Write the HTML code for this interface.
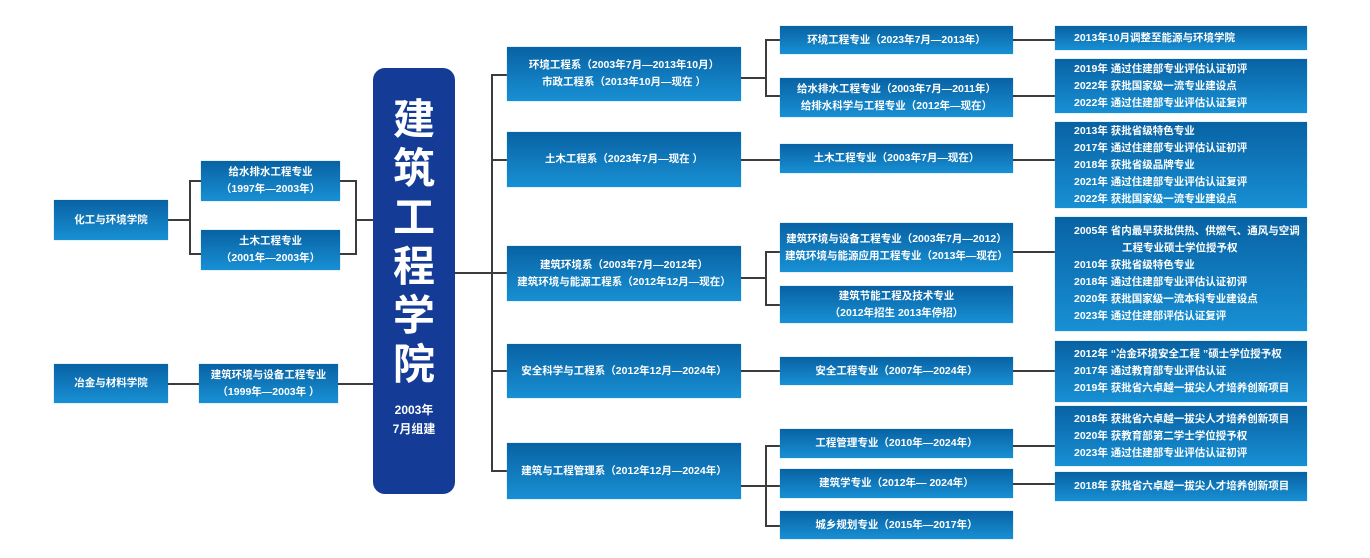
<!DOCTYPE html>
<html><head><meta charset="utf-8"><style>
body{margin:0;width:1370px;height:558px;background:#fff;position:relative;overflow:hidden;font-family:"Liberation Sans","Noto Sans CJK SC",sans-serif;}
.b{position:absolute;background:linear-gradient(#0862a3,#1890d4);color:#fff;font-size:10.5px;font-weight:bold;display:flex;flex-direction:column;justify-content:center;align-items:center;text-align:center;line-height:17px;box-shadow:0 0 1px #7ab8e0;}
.l{align-items:flex-start;text-align:left;padding-left:19px;box-sizing:border-box;}
.h{position:absolute;height:2px;background:#3c3c3c;}
.v{position:absolute;width:2px;background:#3c3c3c;}
#c{position:absolute;left:373px;top:68px;width:82px;height:426px;background:#143c96;border-radius:12px;color:#fff;text-align:center;font-weight:bold;}
</style></head><body>
<div id="c"><div style="font-size:42px;line-height:49px;margin-top:27px;">建<br>筑<br>工<br>程<br>学<br>院</div><div style="font-size:12px;line-height:19px;margin-top:12px;">2003年<br>7月组建</div></div>

<div class="b" style="left:54px;top:200px;width:114px;height:40px">化工与环境学院</div>
<div class="b" style="left:201px;top:161px;width:139px;height:40px">给水排水工程专业<br>（1997年—2003年）</div>
<div class="b" style="left:201px;top:230px;width:139px;height:40px">土木工程专业<br>（2001年—2003年）</div>
<div class="b" style="left:54px;top:364px;width:114px;height:39px">冶金与材料学院</div>
<div class="b" style="left:199px;top:364px;width:139px;height:39px">建筑环境与设备工程专业<br>（1999年—2003年 ）</div>
<div class="h" style="left:168px;top:219px;width:22px"></div>
<div class="v" style="left:189px;top:180px;height:75px"></div>
<div class="h" style="left:189px;top:180px;width:12px"></div>
<div class="h" style="left:189px;top:253px;width:12px"></div>
<div class="h" style="left:340px;top:180px;width:17px"></div>
<div class="h" style="left:340px;top:253px;width:17px"></div>
<div class="v" style="left:355px;top:180px;height:75px"></div>
<div class="h" style="left:355px;top:219px;width:18px"></div>
<div class="h" style="left:168px;top:383px;width:31px"></div>
<div class="h" style="left:338px;top:383px;width:35px"></div>

<div class="h" style="left:455px;top:272px;width:38px"></div>
<div class="v" style="left:491px;top:74px;height:398px"></div>
<div class="h" style="left:491px;top:74px;width:16px"></div>
<div class="h" style="left:491px;top:159px;width:16px"></div>
<div class="h" style="left:491px;top:272px;width:16px"></div>
<div class="h" style="left:491px;top:370px;width:16px"></div>
<div class="h" style="left:491px;top:470px;width:16px"></div>

<div class="b" style="left:507px;top:47px;width:234px;height:54px">环境工程系（2003年7月—2013年10月）<br>市政工程系（2013年10月—现在 ）</div>
<div class="b" style="left:507px;top:132px;width:234px;height:55px">土木工程系（2023年7月—现在 ）</div>
<div class="b" style="left:507px;top:246px;width:234px;height:55px">建筑环境系（2003年7月—2012年）<br>建筑环境与能源工程系（2012年12月—现在）</div>
<div class="b" style="left:507px;top:344px;width:234px;height:54px">安全科学与工程系（2012年12月—2024年）</div>
<div class="b" style="left:507px;top:443px;width:234px;height:56px">建筑与工程管理系（2012年12月—2024年）</div>

<div class="h" style="left:741px;top:77px;width:25px"></div>
<div class="v" style="left:765px;top:39px;height:58px"></div>
<div class="h" style="left:765px;top:39px;width:15px"></div>
<div class="h" style="left:765px;top:95px;width:15px"></div>
<div class="h" style="left:741px;top:159px;width:39px"></div>
<div class="h" style="left:741px;top:277px;width:25px"></div>
<div class="v" style="left:765px;top:251px;height:55px"></div>
<div class="h" style="left:765px;top:251px;width:15px"></div>
<div class="h" style="left:765px;top:304px;width:15px"></div>
<div class="h" style="left:741px;top:370px;width:39px"></div>
<div class="h" style="left:741px;top:485px;width:25px"></div>
<div class="v" style="left:765px;top:445px;height:82px"></div>
<div class="h" style="left:765px;top:445px;width:15px"></div>
<div class="h" style="left:765px;top:485px;width:15px"></div>
<div class="h" style="left:765px;top:525px;width:15px"></div>

<div class="b" style="left:780px;top:26px;width:233px;height:28px">环境工程专业（2023年7月—2013年）</div>
<div class="b" style="left:780px;top:78px;width:233px;height:39px">给水排水工程专业（2003年7月—2011年）<br>给排水科学与工程专业（2012年—现在）</div>
<div class="b" style="left:780px;top:144px;width:233px;height:29px">土木工程专业（2003年7月—现在）</div>
<div class="b" style="left:780px;top:223px;width:233px;height:49px">建筑环境与设备工程专业（2003年7月—2012）<br>建筑环境与能源应用工程专业（2013年—现在）</div>
<div class="b" style="left:780px;top:286px;width:233px;height:37px">建筑节能工程及技术专业<br>（2012年招生 2013年停招）</div>
<div class="b" style="left:780px;top:357px;width:233px;height:28px">安全工程专业（2007年—2024年）</div>
<div class="b" style="left:780px;top:429px;width:233px;height:29px">工程管理专业（2010年—2024年）</div>
<div class="b" style="left:780px;top:469px;width:233px;height:29px">建筑学专业（2012年— 2024年）</div>
<div class="b" style="left:780px;top:511px;width:233px;height:28px">城乡规划专业（2015年—2017年）</div>

<div class="h" style="left:1013px;top:39px;width:42px"></div>
<div class="h" style="left:1013px;top:95px;width:42px"></div>
<div class="h" style="left:1013px;top:159px;width:42px"></div>
<div class="h" style="left:1013px;top:251px;width:42px"></div>
<div class="h" style="left:1013px;top:370px;width:42px"></div>
<div class="h" style="left:1013px;top:445px;width:42px"></div>
<div class="h" style="left:1013px;top:483px;width:42px"></div>

<div class="b l" style="left:1055px;top:26px;width:252px;height:24px">2013年10月调整至能源与环境学院</div>
<div class="b l" style="left:1055px;top:59px;width:252px;height:54px">2019年 通过住建部专业评估认证初评<br>2022年 获批国家级一流专业建设点<br>2022年 通过住建部专业评估认证复评</div>
<div class="b l" style="left:1055px;top:122px;width:252px;height:86px">2013年 获批省级特色专业<br>2017年 通过住建部专业评估认证初评<br>2018年 获批省级品牌专业<br>2021年 通过住建部专业评估认证复评<br>2022年 获批国家级一流专业建设点</div>
<div class="b l" style="left:1055px;top:217px;width:252px;height:114px"><div>2005年 省内最早获批供热、供燃气、通风与空调<br><span style="padding-left:48px">工程专业硕士学位授予权</span><br>2010年 获批省级特色专业<br>2018年 通过住建部专业评估认证初评<br>2020年 获批国家级一流本科专业建设点<br>2023年 通过住建部评估认证复评</div></div>
<div class="b l" style="left:1055px;top:341px;width:252px;height:61px">2012年 “冶金环境安全工程 ”硕士学位授予权<br>2017年 通过教育部专业评估认证<br>2019年 获批省六卓越一拔尖人才培养创新项目</div>
<div class="b l" style="left:1055px;top:406px;width:252px;height:60px">2018年 获批省六卓越一拔尖人才培养创新项目<br>2020年 获教育部第二学士学位授予权<br>2023年 通过住建部专业评估认证初评</div>
<div class="b l" style="left:1055px;top:472px;width:252px;height:29px">2018年 获批省六卓越一拔尖人才培养创新项目</div>
</body></html>
